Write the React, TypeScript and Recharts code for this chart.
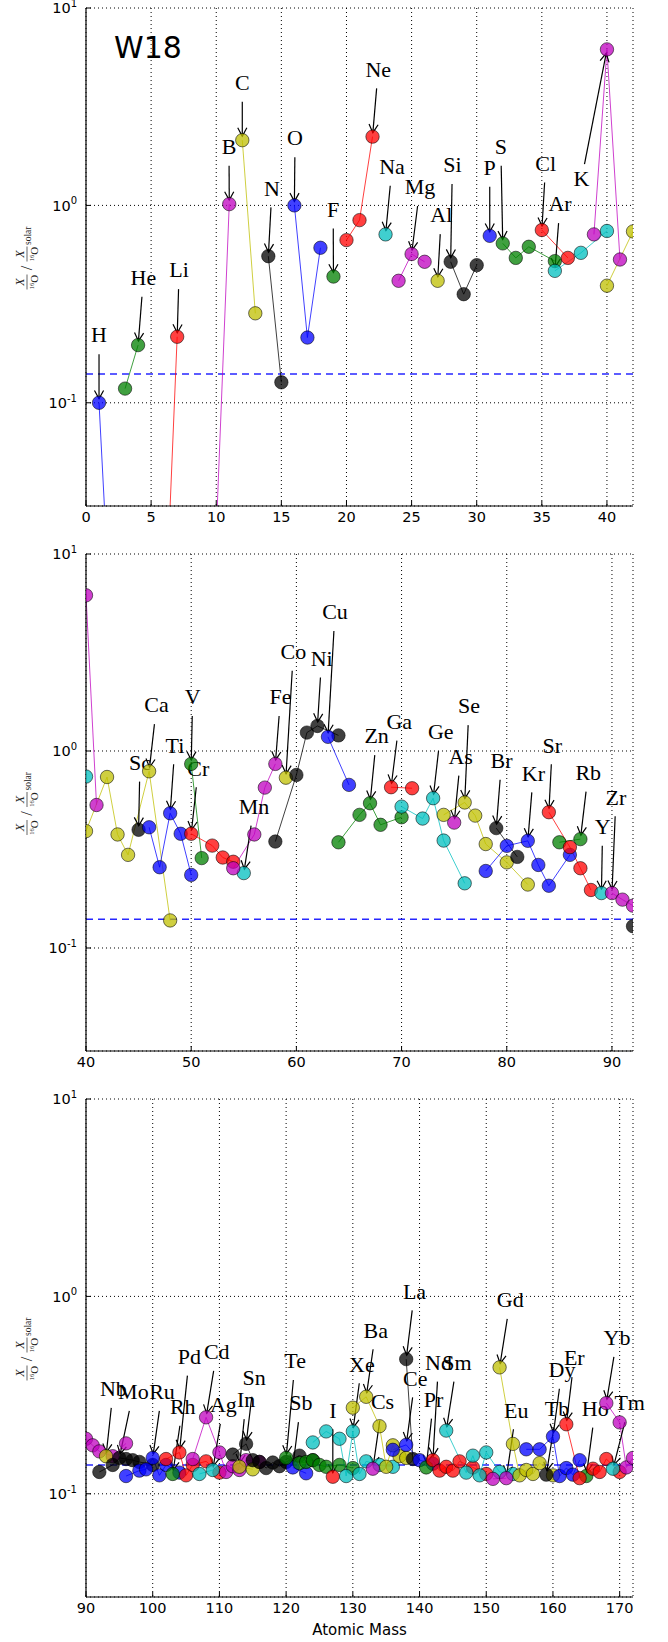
import React from 'react';
import { LineChart, Line, XAxis, YAxis, CartesianGrid, ReferenceLine } from 'recharts';

type Iso = [string, number, number];
type Label = [string, number, number, number];

// elements in order of Z (Tc and Pm absent) -> colour cycle b g r c m y k
const ELEMENTS = [
  'H', 'He', 'Li', 'Be', 'B', 'C', 'N', 'O', 'F', 'Ne', 'Na', 'Mg', 'Al', 'Si', 'P', 'S', 'Cl', 'Ar', 'K',
  'Ca', 'Sc', 'Ti', 'V', 'Cr', 'Mn', 'Fe', 'Co', 'Ni', 'Cu', 'Zn', 'Ga', 'Ge', 'As', 'Se', 'Br', 'Kr', 'Rb',
  'Sr', 'Y', 'Zr', 'Nb', 'Mo', 'Ru', 'Rh', 'Pd', 'Ag', 'Cd', 'In', 'Sn', 'Sb', 'Te', 'I', 'Xe', 'Cs', 'Ba',
  'La', 'Ce', 'Pr', 'Nd', 'Sm', 'Eu', 'Gd', 'Tb', 'Dy', 'Ho', 'Er', 'Tm', 'Yb',
];
const COLORS = ['#0000ff', '#008000', '#ff0000', '#00bfbf', '#bf00bf', '#bfbf00', '#000000'];

// [element, mass, X/16O relative to solar]
const LIGHT_ISOTOPES: Iso[] = [
  ['H', 1, 0.1], ['H', 2, 0.0054],
  ['He', 3, 0.118], ['He', 4, 0.196],
  ['Li', 6, 0.0056], ['Li', 7, 0.216],
  ['Be', 9, 0.001],
  ['B', 10, 0.022], ['B', 11, 1.015],
  ['C', 12, 2.14], ['C', 13, 0.284],
  ['N', 14, 0.553], ['N', 15, 0.127],
  ['O', 16, 1.0], ['O', 17, 0.214], ['O', 18, 0.61],
  ['F', 19, 0.436],
  ['Ne', 20, 0.667], ['Ne', 21, 0.842], ['Ne', 22, 2.23],
  ['Na', 23, 0.713],
  ['Mg', 24, 0.415], ['Mg', 25, 0.567], ['Mg', 26, 0.518],
  ['Al', 27, 0.415],
  ['Si', 28, 0.518], ['Si', 29, 0.355], ['Si', 30, 0.498],
  ['P', 31, 0.701],
  ['S', 32, 0.642], ['S', 33, 0.542], ['S', 34, 0.617], ['S', 36, 0.522],
  ['Cl', 35, 0.75], ['Cl', 37, 0.542],
  ['Ar', 36, 0.466], ['Ar', 38, 0.575], ['Ar', 40, 0.742],
  ['K', 39, 0.713], ['K', 40, 6.17], ['K', 41, 0.532],
  ['Ca', 40, 0.392], ['Ca', 42, 0.738], ['Ca', 43, 0.377], ['Ca', 44, 0.297], ['Ca', 46, 0.789], ['Ca', 48, 0.138],
];

const MEDIUM_ISOTOPES: Iso[] = [
  ['Sc', 45, 0.398],
  ['Ti', 46, 0.41], ['Ti', 47, 0.257], ['Ti', 48, 0.483], ['Ti', 49, 0.38], ['Ti', 50, 0.235],
  ['V', 50, 0.86], ['V', 51, 0.286],
  ['Cr', 50, 0.38], ['Cr', 52, 0.331], ['Cr', 53, 0.288], ['Cr', 54, 0.274],
  ['Mn', 55, 0.24],
  ['Fe', 54, 0.254], ['Fe', 56, 0.377], ['Fe', 57, 0.652], ['Fe', 58, 0.86],
  ['Co', 59, 0.732],
  ['Ni', 58, 0.347], ['Ni', 60, 0.756], ['Ni', 61, 1.24], ['Ni', 62, 1.34], ['Ni', 64, 1.2],
  ['Cu', 63, 1.18], ['Cu', 65, 0.673],
  ['Zn', 64, 0.344], ['Zn', 66, 0.474], ['Zn', 67, 0.543], ['Zn', 68, 0.422], ['Zn', 70, 0.461],
  ['Ga', 69, 0.655], ['Ga', 71, 0.647],
  ['Ge', 70, 0.522], ['Ge', 72, 0.454], ['Ge', 73, 0.576], ['Ge', 74, 0.351], ['Ge', 76, 0.213],
  ['As', 75, 0.433],
  ['Se', 74, 0.474], ['Se', 76, 0.548], ['Se', 77, 0.47], ['Se', 78, 0.337], ['Se', 80, 0.272], ['Se', 82, 0.21],
  ['Br', 79, 0.406], ['Br', 81, 0.29],
  ['Kr', 78, 0.246], ['Kr', 80, 0.33], ['Kr', 82, 0.35], ['Kr', 83, 0.264], ['Kr', 84, 0.207], ['Kr', 86, 0.297],
  ['Rb', 85, 0.344], ['Rb', 87, 0.357],
  ['Sr', 84, 0.489], ['Sr', 86, 0.325], ['Sr', 87, 0.254], ['Sr', 88, 0.197],
  ['Y', 89, 0.19],
  ['Zr', 90, 0.19], ['Zr', 91, 0.176], ['Zr', 92, 0.164], ['Zr', 94, 0.155], ['Zr', 96, 0.18],
];

const HEAVY_ISOTOPES: Iso[] = [
  ['Nb', 93, 0.155],
  ['Mo', 92, 0.129], ['Mo', 94, 0.14], ['Mo', 95, 0.152], ['Mo', 96, 0.15], ['Mo', 97, 0.148], ['Mo', 98, 0.145], ['Mo', 100, 0.14],
  ['Ru', 96, 0.123], ['Ru', 98, 0.131], ['Ru', 99, 0.133], ['Ru', 100, 0.152], ['Ru', 101, 0.124], ['Ru', 102, 0.14], ['Ru', 104, 0.128],
  ['Rh', 103, 0.126],
  ['Pd', 102, 0.15], ['Pd', 104, 0.162], ['Pd', 105, 0.124], ['Pd', 106, 0.14], ['Pd', 108, 0.146], ['Pd', 110, 0.128],
  ['Ag', 107, 0.126], ['Ag', 109, 0.132],
  ['Cd', 106, 0.15], ['Cd', 108, 0.244], ['Cd', 110, 0.162], ['Cd', 111, 0.129], ['Cd', 112, 0.138], ['Cd', 113, 0.132], ['Cd', 114, 0.148], ['Cd', 116, 0.145],
  ['In', 113, 0.137], ['In', 115, 0.133],
  ['Sn', 112, 0.158], ['Sn', 114, 0.179], ['Sn', 115, 0.148], ['Sn', 116, 0.145], ['Sn', 117, 0.135], ['Sn', 118, 0.144], ['Sn', 119, 0.138], ['Sn', 120, 0.145], ['Sn', 122, 0.156], ['Sn', 124, 0.148],
  ['Sb', 121, 0.136], ['Sb', 123, 0.127],
  ['Te', 120, 0.152], ['Te', 122, 0.143], ['Te', 123, 0.145], ['Te', 124, 0.148], ['Te', 125, 0.14], ['Te', 126, 0.137], ['Te', 128, 0.14], ['Te', 130, 0.135],
  ['I', 127, 0.122],
  ['Xe', 124, 0.182], ['Xe', 126, 0.207], ['Xe', 128, 0.19], ['Xe', 129, 0.123], ['Xe', 130, 0.207], ['Xe', 131, 0.126], ['Xe', 132, 0.146], ['Xe', 134, 0.14], ['Xe', 136, 0.137],
  ['Cs', 133, 0.134],
  ['Ba', 130, 0.273], ['Ba', 132, 0.31], ['Ba', 134, 0.22], ['Ba', 135, 0.137], ['Ba', 136, 0.176], ['Ba', 137, 0.155], ['Ba', 138, 0.152],
  ['La', 138, 0.481], ['La', 139, 0.15],
  ['Ce', 136, 0.167], ['Ce', 138, 0.177], ['Ce', 140, 0.148], ['Ce', 142, 0.142],
  ['Pr', 141, 0.136],
  ['Nd', 142, 0.148], ['Nd', 143, 0.131], ['Nd', 144, 0.137], ['Nd', 145, 0.131], ['Nd', 146, 0.146], ['Nd', 148, 0.136], ['Nd', 150, 0.126],
  ['Sm', 144, 0.209], ['Sm', 147, 0.128], ['Sm', 148, 0.156], ['Sm', 149, 0.124], ['Sm', 150, 0.162], ['Sm', 152, 0.129], ['Sm', 154, 0.126],
  ['Eu', 151, 0.119], ['Eu', 153, 0.12],
  ['Gd', 152, 0.437], ['Gd', 154, 0.179], ['Gd', 155, 0.124], ['Gd', 156, 0.132], ['Gd', 157, 0.126], ['Gd', 158, 0.143], ['Gd', 160, 0.124],
  ['Tb', 159, 0.125],
  ['Dy', 156, 0.168], ['Dy', 158, 0.168], ['Dy', 160, 0.195], ['Dy', 161, 0.123], ['Dy', 162, 0.135], ['Dy', 163, 0.125], ['Dy', 164, 0.148],
  ['Ho', 165, 0.123],
  ['Er', 162, 0.225], ['Er', 164, 0.12], ['Er', 166, 0.134], ['Er', 167, 0.129], ['Er', 168, 0.15], ['Er', 170, 0.129],
  ['Tm', 169, 0.134],
  ['Yb', 168, 0.288], ['Yb', 170, 0.23], ['Yb', 171, 0.136], ['Yb', 172, 0.152], ['Yb', 173, 0.14], ['Yb', 174, 0.15], ['Yb', 176, 0.13],
];

// [element, annotated mass, label mass, label ratio]
const LABELS: Label[] = [
  ['H', 1, 1.0, 0.22], ['He', 4, 4.41, 0.43], ['Li', 7, 7.15, 0.47], ['B', 11, 10.98, 1.98],
  ['C', 12, 12.0, 4.18], ['N', 14, 14.28, 1.22], ['O', 16, 16.05, 2.19], ['F', 19, 18.98, 0.954],
  ['Ne', 22, 22.44, 4.89], ['Na', 23, 23.5, 1.57], ['Mg', 25, 25.64, 1.24], ['Al', 27, 27.28, 0.893],
  ['Si', 28, 28.13, 1.6], ['P', 31, 31.0, 1.55], ['S', 32, 31.85, 1.98], ['Cl', 35, 35.3, 1.63],
  ['Ar', 36, 36.4, 1.015], ['K', 40, 38.05, 1.36],
  ['Ca', 46, 46.71, 1.71], ['Sc', 45, 45.13, 0.873], ['Ti', 48, 48.46, 1.07], ['V', 50, 50.14, 1.88],
  ['Cr', 50, 50.68, 0.817], ['Mn', 55, 55.97, 0.522], ['Fe', 58, 58.5, 1.88], ['Co', 59, 59.71, 3.19],
  ['Ni', 62, 62.4, 2.95], ['Cu', 63, 63.67, 5.08], ['Zn', 67, 67.63, 1.19], ['Ga', 69, 69.78, 1.41],
  ['Ge', 73, 73.72, 1.25], ['As', 75, 75.62, 0.936], ['Se', 76, 76.41, 1.69], ['Br', 79, 79.51, 0.893],
  ['Kr', 82, 82.53, 0.77], ['Sr', 84, 84.33, 1.07], ['Rb', 87, 87.75, 0.776], ['Y', 89, 89.11, 0.413],
  ['Zr', 90, 90.38, 0.582],
  ['Nb', 93, 94.1, 0.34], ['Mo', 95, 97.1, 0.328], ['Ru', 100, 101.4, 0.328], ['Rh', 103, 104.5, 0.276],
  ['Pd', 104, 105.5, 0.495], ['Cd', 108, 109.6, 0.523], ['Ag', 109, 110.6, 0.282], ['In', 113, 114.0, 0.298],
  ['Sn', 114, 115.2, 0.387], ['Te', 120, 121.35, 0.471], ['Sb', 121, 122.2, 0.288], ['I', 127, 127.0, 0.265],
  ['Xe', 130, 131.35, 0.453], ['Ba', 132, 133.45, 0.674], ['Cs', 133, 134.45, 0.294], ['La', 138, 139.25, 1.06],
  ['Ce', 138, 139.35, 0.384], ['Pr', 141, 142.1, 0.3], ['Nd', 142, 142.85, 0.462], ['Sm', 144, 145.6, 0.462],
  ['Gd', 152, 153.6, 0.96], ['Eu', 153, 154.5, 0.265], ['Dy', 160, 161.35, 0.425], ['Tb', 159, 160.6, 0.27],
  ['Er', 162, 163.2, 0.487], ['Ho', 165, 166.35, 0.27], ['Yb', 168, 169.6, 0.616], ['Tm', 169, 171.5, 0.288],
];

const Y_MAJOR = [0.1, 1, 10];
const Y_MINOR = [0.03, 0.04, 0.05, 0.06, 0.07, 0.08, 0.09, 0.2, 0.3, 0.4, 0.5, 0.6, 0.7, 0.8, 0.9, 2, 3, 4, 5, 6, 7, 8, 9];
const X_TICKS_1 = [0, 5, 10, 15, 20, 25, 30, 35, 40];
const X_TICKS_2 = [40, 50, 60, 70, 80, 90];
const X_TICKS_3 = [90, 100, 110, 120, 130, 140, 150, 160, 170];
const SOLAR_LEVEL = 0.14;

const ALL_ISOTOPES = [...LIGHT_ISOTOPES, ...MEDIUM_ISOTOPES, ...HEAVY_ISOTOPES];

const SERIES = ELEMENTS.map((el, i) => ({
  el,
  color: COLORS[i % COLORS.length],
  points: ALL_ISOTOPES.filter((d) => d[0] === el)
    .map((d) => ({ mass: d[1], ratio: d[2] }))
    .sort((a, b) => a.mass - b.mass),
}));

const ratioOf = (el: string, mass: number) => {
  const hit = ALL_ISOTOPES.find((d) => d[0] === el && d[1] === mass);
  return hit ? hit[2] : 1;
};

const SANS = "'DejaVu Sans', sans-serif";
const SERIF = "'Liberation Serif', 'DejaVu Serif', serif";

// text + matplotlib style "->" arrow
const makeArrow = (name: string) => (p: any) => {
  const { x1, y1, x2, y2 } = p;
  const dx = x2 - x1;
  const dy = y2 - y1;
  const len = Math.hypot(dx, dy) || 1;
  const hw = name.length * 6.5 + 3;
  const hh = dy > 0 ? 19 : 15;
  let t = Math.min(
    Math.abs(dx) > 0.01 ? hw / Math.abs(dx) : Infinity,
    Math.abs(dy) > 0.01 ? hh / Math.abs(dy) : Infinity,
  );
  t = Math.min(t, 0.9);
  const sx = x1 + dx * t;
  const sy = y1 + dy * t;
  const ex = x2 - (dx / len) * 4;
  const ey = y2 - (dy / len) * 4;
  const ang = Math.atan2(ey - sy, ex - sx);
  const head = 9.5;
  const spread = 0.5;
  const hx1 = ex - head * Math.cos(ang - spread);
  const hy1 = ey - head * Math.sin(ang - spread);
  const hx2 = ex - head * Math.cos(ang + spread);
  const hy2 = ey - head * Math.sin(ang + spread);
  return (
    <g>
      <text x={x1} y={y1 + 7.3} textAnchor="middle" fontFamily={SERIF} fontSize={22} fill="#000">
        {name}
      </text>
      <line x1={sx} y1={sy} x2={ex} y2={ey} stroke="#000" strokeWidth={1.2} />
      <polyline points={`${hx1},${hy1} ${ex},${ey} ${hx2},${hy2}`} fill="none" stroke="#000" strokeWidth={1.2} />
    </g>
  );
};

const PowTick = (p: any) => {
  const exp = Math.round(Math.log10(p.payload.value));
  return (
    <text x={p.x} y={p.y + 5.3} textAnchor="end" fontFamily={SANS} fontSize={14.5} fill="#000">
      10
      <tspan dy={-6.5} fontSize={10}>
        {exp < 0 ? `-${-exp}` : `${exp}`}
      </tspan>
    </text>
  );
};

const Frac = ({ cx }: { cx: number }) => (
  <g>
    <text x={cx} y={-3} textAnchor="middle" fontFamily={SERIF} fontStyle="italic" fontSize={12} fill="#222">
      X
    </text>
    <line x1={cx - 7.5} x2={cx + 7.5} y1={0} y2={0} stroke="#222" strokeWidth={0.7} />
    <text x={cx} y={10.5} textAnchor="middle" fontFamily={SERIF} fontSize={11} fill="#222">
      <tspan fontSize={6.5} dy={-3.5}>16</tspan>
      <tspan dy={3.5}>O</tspan>
    </text>
  </g>
);

const YLabel = (props: any) => {
  const vb = props.viewBox || { x: 26, y: 0, width: 60, height: 500 };
  const cy = vb.y + vb.height / 2;
  return (
    <g transform={`translate(${vb.x + 1}, ${cy}) rotate(-90)`}>
      <Frac cx={-25} />
      <text x={-11} y={5} textAnchor="middle" fontFamily={SERIF} fontSize={16} fill="#222">/</text>
      <Frac cx={3} />
      <text x={12} y={4} fontFamily={SERIF} fontSize={9.5} fill="#222">solar</text>
    </g>
  );
};

interface PanelProps {
  top: number;
  height: number;
  marginTop: number;
  xDomain: [number, number];
  xTicks: number[];
  labelRange: [number, number];
  xAxisHeight: number;
  xLabel?: string;
}

function Panel({ top, height, marginTop, xDomain, xTicks, labelRange, xAxisHeight, xLabel }: PanelProps) {
  const labels = LABELS.filter((l) => l[1] >= labelRange[0] && l[1] < labelRange[1]);
  return (
    <div style={{ position: 'absolute', left: 0, top }}>
      <LineChart width={660} height={height} margin={{ top: marginTop, right: 27, bottom: 0, left: 26 }}>
        <CartesianGrid stroke="#000" strokeDasharray="1 3" strokeWidth={1} />
        <XAxis
          dataKey="mass"
          type="number"
          domain={xDomain}
          allowDataOverflow
          ticks={xTicks}
          interval={0}
          height={xAxisHeight}
          tickSize={-5}
          tickMargin={11}
          axisLine={{ stroke: '#000', strokeWidth: 1.2 }}
          tickLine={{ stroke: '#000' }}
          tick={{ fill: '#000', fontSize: 14.5, fontFamily: SANS }}
          label={xLabel ? { value: xLabel, position: 'insideBottom', offset: 7, fill: '#000', fontSize: 15, fontFamily: SANS } : undefined}
        />
        <XAxis
          xAxisId="top"
          orientation="top"
          mirror
          type="number"
          domain={xDomain}
          allowDataOverflow
          ticks={xTicks}
          interval={0}
          height={0}
          tick={false}
          tickSize={5}
          axisLine={{ stroke: '#000', strokeWidth: 1.2 }}
          tickLine={{ stroke: '#000' }}
        />
        <YAxis
          type="number"
          scale="log"
          domain={[0.03, 10]}
          allowDataOverflow
          ticks={Y_MAJOR}
          interval={0}
          width={60}
          tickSize={-5}
          tickMargin={14}
          axisLine={{ stroke: '#000', strokeWidth: 1.2 }}
          tickLine={{ stroke: '#000' }}
          tick={<PowTick />}
          label={(p: any) => <YLabel {...p} />}
        />
        <YAxis
          yAxisId="minorL"
          orientation="left"
          mirror
          type="number"
          scale="log"
          domain={[0.03, 10]}
          allowDataOverflow
          ticks={Y_MINOR}
          interval={0}
          width={0}
          tick={false}
          tickSize={3}
          axisLine={false}
          tickLine={{ stroke: '#000' }}
        />
        <YAxis
          yAxisId="majorR"
          orientation="right"
          mirror
          type="number"
          scale="log"
          domain={[0.03, 10]}
          allowDataOverflow
          ticks={Y_MAJOR}
          interval={0}
          width={0}
          tick={false}
          tickSize={5}
          axisLine={{ stroke: '#000', strokeWidth: 1.2 }}
          tickLine={{ stroke: '#000' }}
        />
        <YAxis
          yAxisId="minorR"
          orientation="right"
          mirror
          type="number"
          scale="log"
          domain={[0.03, 10]}
          allowDataOverflow
          ticks={Y_MINOR}
          interval={0}
          width={0}
          tick={false}
          tickSize={3}
          axisLine={false}
          tickLine={{ stroke: '#000' }}
        />
        <ReferenceLine y={SOLAR_LEVEL} stroke="#0000ff" strokeOpacity={0.85} strokeWidth={1.4} strokeDasharray="7 5" />
        {SERIES.map((s) => (
          <Line
            key={s.el}
            data={s.points}
            dataKey="ratio"
            type="linear"
            stroke={s.color}
            strokeOpacity={0.75}
            strokeWidth={1}
            dot={{ r: 6.7, fill: s.color, fillOpacity: 0.75, stroke: '#000', strokeOpacity: 0.55, strokeWidth: 1 }}
            activeDot={false}
            isAnimationActive={false}
          />
        ))}
        {labels.map(([name, tipMass, lx, ly]) => (
          <ReferenceLine
            key={`lab-${name}`}
            segment={[
              { x: lx, y: ly },
              { x: tipMass, y: ratioOf(name, tipMass) },
            ]}
            ifOverflow="visible"
            shape={makeArrow(name)}
          />
        ))}
      </LineChart>
    </div>
  );
}

export default function App() {
  return (
    <div style={{ position: 'absolute', left: 0, top: 0, width: 668, height: 1642, background: '#fff' }}>
      <Panel top={0} height={530} marginTop={8} xDomain={[0, 42]} xTicks={X_TICKS_1} labelRange={[0, 42]} xAxisHeight={24} />
      <Panel top={540} height={535} marginTop={14} xDomain={[40, 92]} xTicks={X_TICKS_2} labelRange={[42, 92]} xAxisHeight={24} />
      <Panel
        top={1090}
        height={552}
        marginTop={9}
        xDomain={[90, 172]}
        xTicks={X_TICKS_3}
        labelRange={[92, 173]}
        xAxisHeight={45}
        xLabel="Atomic Mass"
      />
      <svg width={668} height={90} style={{ position: 'absolute', left: 0, top: 0, pointerEvents: 'none' }}>
        <text x={148} y={58} textAnchor="middle" fontFamily={SANS} fontSize={30} fill="#000">
          W18
        </text>
      </svg>
    </div>
  );
}
